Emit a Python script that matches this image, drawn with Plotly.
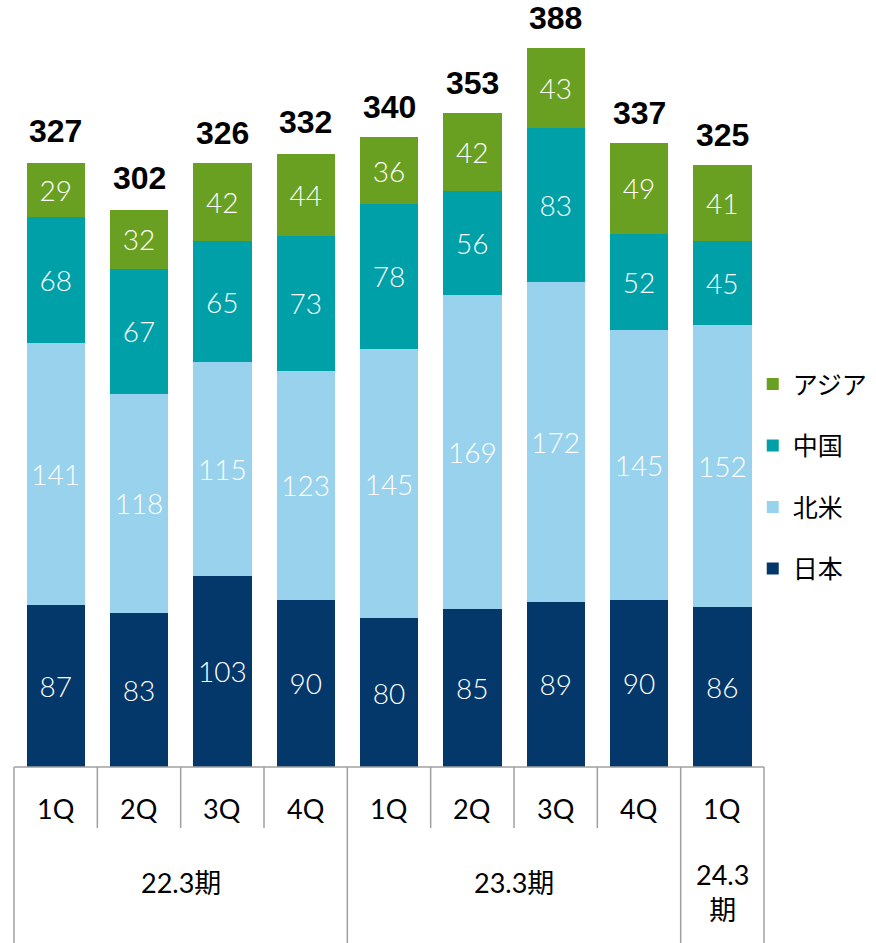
import plotly.graph_objects as go

quarters = ["1Q", "2Q", "3Q", "4Q", "1Q", "2Q", "3Q", "4Q", "1Q"]
groups = ["22.3期", "23.3期", "24.3<br>期"]
group_sizes = [4, 4, 1]

japan = [87, 83, 103, 90, 80, 85, 89, 90, 86]
north_america = [141, 118, 115, 123, 145, 169, 172, 145, 152]
china = [68, 67, 65, 73, 78, 56, 83, 52, 45]
asia = [29, 32, 42, 44, 36, 42, 43, 49, 41]
totals = [327, 302, 326, 332, 340, 353, 388, 337, 325]

series = [
    ("日本", japan, "#04386A", 4),
    ("北米", north_america, "#99D2EC", 3),
    ("中国", china, "#00A0A8", 2),
    ("アジア", asia, "#6AA022", 1),
]

LABEL_FONT = "Lato, Roboto, Noto Sans CJK JP, sans-serif"
CJK_FONT = "Noto Sans CJK JP, sans-serif"

x = list(range(len(quarters)))
fig = go.Figure()
for name, vals, color, rank in series:
    fig.add_trace(go.Bar(
        x=x, y=vals, name=name, legendgroup=name, legendrank=rank,
        marker=dict(color=color, line=dict(width=0)),
        width=0.70,
        text=[str(v) for v in vals],
        textposition="inside", insidetextanchor="middle", textangle=0,
        constraintext="none",
        textfont=dict(color="white", size=28, family=LABEL_FONT, weight=300),
    ))

# totals
for i, t in enumerate(totals):
    fig.add_annotation(x=i, y=t, xref="x", yref="y", text=str(t), showarrow=False,
                       yanchor="bottom", yshift=8,
                       font=dict(size=32, color="black", family="Liberation Sans, Arial", weight="bold"))

n = len(quarters)
line = dict(color="#A0A0A0", width=1.5)
row1 = -0.0795
bottom = -0.2295
# top axis line of table
fig.add_shape(type="line", xref="paper", yref="paper", x0=0, x1=1, y0=0, y1=0, line=line)
# group boundaries (full height)
bounds = [0]
for s in group_sizes:
    bounds.append(bounds[-1] + s)
for b in bounds:
    fig.add_shape(type="line", xref="paper", yref="paper", x0=b / n, x1=b / n, y0=0, y1=bottom, line=line)
# quarter separators
for k in range(1, n):
    if k not in bounds:
        fig.add_shape(type="line", xref="paper", yref="paper", x0=k / n, x1=k / n, y0=0, y1=row1, line=line)

# quarter labels
for i, q in enumerate(quarters):
    fig.add_annotation(x=i, y=-0.0535, xref="x", yref="paper", text=q, showarrow=False,
                       yanchor="middle", font=dict(size=27, color="#000", family=LABEL_FONT, weight=400))
# group labels
for gi, g in enumerate(groups):
    start, end = bounds[gi], bounds[gi + 1]
    cx = (start + end - 1) / 2
    ypos = -0.1505 if "<br>" not in g else -0.1625
    fig.add_annotation(x=cx, y=ypos, xref="x", yref="paper", text=g, showarrow=False,
                       yanchor="middle", font=dict(size=27, color="#000", family=LABEL_FONT, weight=400))

fig.update_layout(
    width=876, height=943,
    margin=dict(l=14, r=112, t=0, b=176, autoexpand=False),
    barmode="stack",
    plot_bgcolor="white", paper_bgcolor="white",
    showlegend=True,
    legend=dict(x=0.985, xanchor="left", y=0.379, yanchor="middle",
                traceorder="grouped", tracegroupgap=26,
                font=dict(size=25, color="#000", family=CJK_FONT),
                itemwidth=30, bgcolor="rgba(0,0,0,0)"),
    xaxis=dict(range=[-0.5, n - 0.5], showticklabels=False, showgrid=False, zeroline=False,
               showline=False, ticks=""),
    yaxis=dict(range=[0, 767 / 1.8582], showticklabels=False, showgrid=False, zeroline=False,
               showline=False, ticks=""),
)

fig.write_html("out.html", config={"displayModeBar": False},
               post_script="document.body.style.margin='0';document.body.style.overflow='hidden';")
